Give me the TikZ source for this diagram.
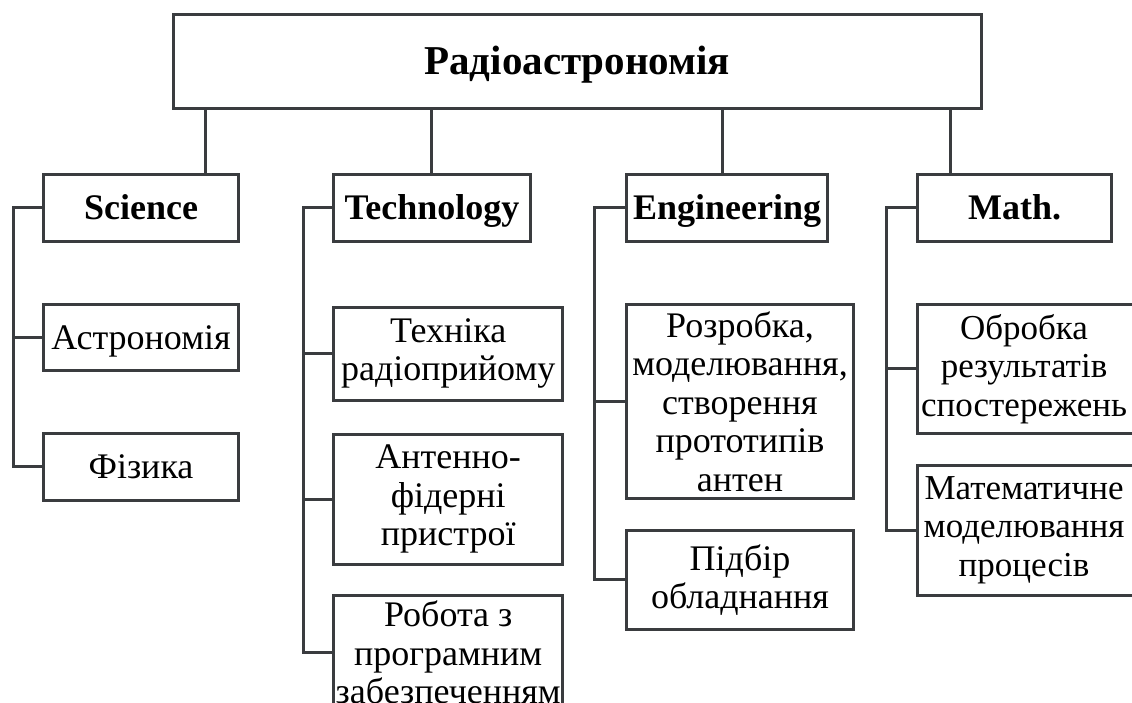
\documentclass[tikz,border=0pt]{standalone}
\usepackage{fontspec}
\setmainfont{Liberation Serif}
\definecolor{linec}{RGB}{58,60,63}
\tikzset{
  box/.style={draw=linec, line width=3pt, inner sep=0pt, align=center, text=black,
    font=\fontsize{36}{38.5}\selectfont},
  one/.style={text height=26pt, text depth=2pt},
  bbox/.style={box, one, font=\fontsize{36}{40}\selectfont\bfseries, minimum height=67pt},
  txt/.style={inner sep=0pt, align=center, text=black, font=\fontsize{35}{38.5}\selectfont},
  conn/.style={draw=linec, line width=3pt, line join=miter},
}
\begin{document}
\begin{tikzpicture}[x=1pt,y=-1pt]
\useasboundingbox (0,0) rectangle (1132,703);
\fill[white] (0,0) rectangle (1132,703);
\clip (0,0) rectangle (1132,703);

% top
\node[box, text height=29pt, text depth=2pt, font=\fontsize{41}{45}\selectfont\bfseries, minimum width=807.7pt, minimum height=94.7pt] (top) at (577.2,61.4) {Радіоастрономія};

% second level
\node[bbox, minimum width=195.3pt] (sci)  at (141,207.8)    {Science};
\node[bbox, minimum width=196.1pt] (tech) at (432,207.8)    {Technology};
\node[bbox, minimum width=201.4pt] (eng)  at (727,207.8)    {Engineering};
\node[bbox, minimum width=194.2pt] (math) at (1014.7,207.8) {Math.};

% children
\node[box, one, minimum width=195.3pt, minimum height=65.7pt] (ast) at (141,337.2) {Астрономія};
\node[box, one, minimum width=195.3pt, minimum height=67pt]   (fiz) at (141,466.5) {Фізика};

\node[box, minimum width=228.6pt, minimum height=92.7pt] (tex) at (448.2,353.7) {Техніка\\радіоприйому};
\node[box, minimum width=228.6pt, minimum height=130pt]  (ant) at (448.2,499)   {Антенно-\\фідерні\\пристрої};
\node[box, minimum width=228.6pt, minimum height=115pt]  (rob) at (448.2,652.5) {Робота з\\програмним\\забезпеченням};

\node[box, minimum width=227.4pt, minimum height=194pt]  (roz) at (740,401.3) {Розробка,\\моделювання,\\створення\\прототипів\\антен};
\node[box, minimum width=227.4pt, minimum height=98.3pt] (pid) at (740,579.9) {Підбір\\обладнання};

% math children (cut off at the right edge)
\node[box, minimum width=250pt, minimum height=129pt] (obr) at (1042.6,368.8) {};
\node[txt] (obrt) at (1024,368.8) {Обробка\\результатів\\спостережень};
\node[box, minimum width=250pt, minimum height=130pt] (mat) at (1042.6,530) {};
\node[txt] (matt) at (1024,530) {Математичне\\моделювання\\процесів};

% connectors from top
\coordinate (t1) at (205.8,0);
\coordinate (t2) at (431.8,0);
\coordinate (t3) at (722.7,0);
\coordinate (t4) at (950.5,0);
\draw[conn] (top.south -| t1) -- (sci.north -| t1);
\draw[conn] (top.south -| t2) -- (tech.north -| t2);
\draw[conn] (top.south -| t3) -- (eng.north -| t3);
\draw[conn] (top.south -| t4) -- (math.north -| t4);

% buses
\coordinate (b1) at (13,0);
\coordinate (b2) at (303.2,0);
\coordinate (b3) at (594.2,0);
\coordinate (b4) at (886.6,0);

\draw[conn] (sci.west) -| (b1 |- fiz.west) -- (fiz.west);
\draw[conn] (b1 |- ast.west) -- (ast.west);

\draw[conn] (tech.west) -| (b2 |- rob.west) -- (rob.west);
\draw[conn] (b2 |- tex.west) -- (tex.west);
\draw[conn] (b2 |- ant.west) -- (ant.west);

\draw[conn] (eng.west) -| (b3 |- pid.west) -- (pid.west);
\draw[conn] (b3 |- roz.west) -- (roz.west);

\draw[conn] (math.west) -| (b4 |- mat.west) -- (mat.west);
\draw[conn] (b4 |- obr.west) -- (obr.west);
\end{tikzpicture}
\end{document}
